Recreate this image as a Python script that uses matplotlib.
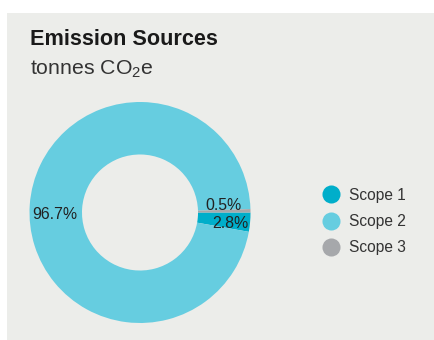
import matplotlib
matplotlib.use("Agg")
import matplotlib.pyplot as plt
from matplotlib.lines import Line2D
from matplotlib.patches import Rectangle
import numpy as np

plt.rcParams['font.family'] = ['Liberation Sans', 'DejaVu Sans']
plt.rcParams['mathtext.fontset'] = 'custom'
plt.rcParams['mathtext.rm'] = 'Liberation Sans'
plt.rcParams['mathtext.default'] = 'regular'

categories = ["Scope 1", "Scope 2", "Scope 3"]
values = [2.8, 96.7, 0.5]
labels = ["2.8%", "96.7%", "0.5%"]
colors = ["#00AECA", "#66CDE0", "#A6A8AB"]

W, H = 434, 340
fig = plt.figure(figsize=(W / 100, H / 100), dpi=100)
fig.patch.set_facecolor("white")

# grey panel
fig.patches.append(Rectangle((7 / W, 0), 1 - 7 / W, (H - 13) / H,
                             transform=fig.transFigure, facecolor="#ECEDEA",
                             edgecolor="none", zorder=-10))

fig.text(30 / W, (H - 45) / H, "Emission Sources", fontsize=15.6, fontweight="bold",
         color="#1a1a1a", va="baseline", ha="left")
fig.text(30 / W, (H - 75) / H, "tonnes CO$_2$e", fontsize=15.3, color="#333333",
         va="baseline", ha="left")

cx, cy, R = 140, 212.5, 110.5
ax = fig.add_axes([(cx - R) / W, (H - cy - R) / H, 2 * R / W, 2 * R / H])
ax.set_facecolor("none")
wedges, texts, autotexts = ax.pie(values, colors=colors, startangle=0, counterclock=False,
                                  radius=1, wedgeprops=dict(width=0.475, linewidth=0),
                                  autopct=lambda p: "", pctdistance=0.77)
for t, lab in zip(autotexts, labels):
    t.set_text(lab)
    t.set_fontsize(11.4)
    t.set_color("#222222")
# nudge labels
x, y = autotexts[0].get_position()
autotexts[0].set_position((x + 0.05, y - 0.035))
x, y = autotexts[1].get_position()
autotexts[1].set_position((x, y - 0.07))
x, y = autotexts[2].get_position()
autotexts[2].set_position((x - 0.01, y + 0.05))
ax.set_xlim(-1, 1)
ax.set_ylim(-1, 1)
ax.axis("off")

handles = [Line2D([0], [0], marker="o", linestyle="none", markersize=13,
                  markerfacecolor=c, markeredgecolor="none") for c in colors]
fig.legend(handles, categories, loc="center left",
           bbox_to_anchor=(323 / W, (H - 221.5) / H), frameon=False,
           fontsize=11.2, labelspacing=0.72, handlelength=1.0, handletextpad=0.65,
           labelcolor="#333333", borderaxespad=0, borderpad=0)

fig.savefig("out.png", dpi=100)
